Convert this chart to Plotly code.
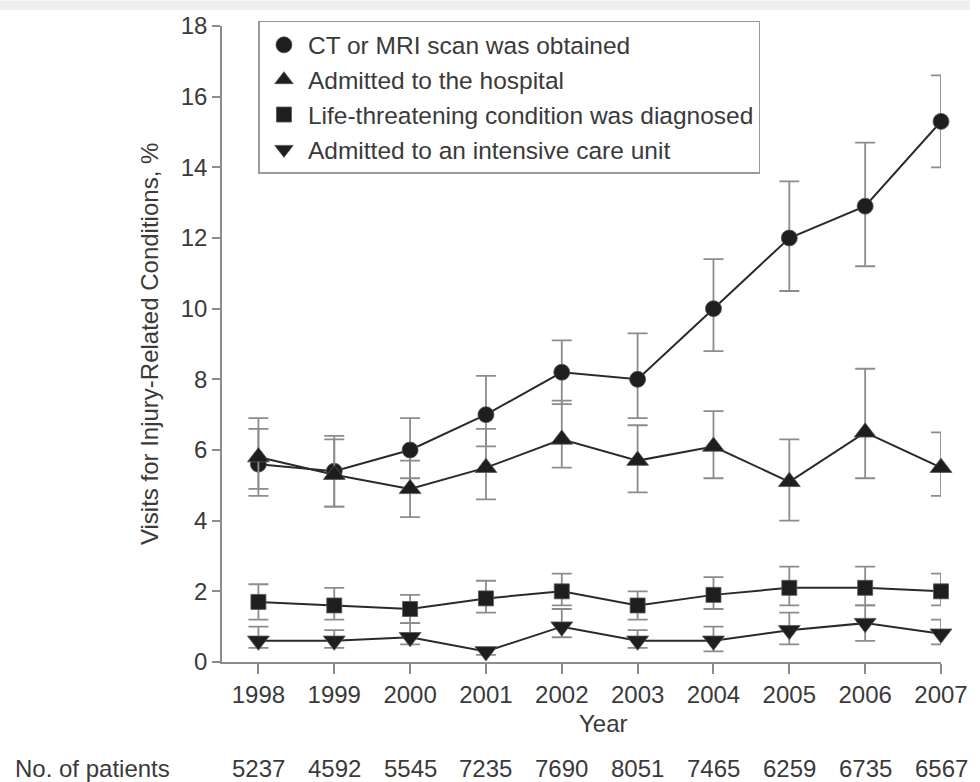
import plotly.graph_objects as go

# Survey years and number of patients per year
years = [1998, 1999, 2000, 2001, 2002, 2003, 2004, 2005, 2006, 2007]
patients = [5237, 4592, 5545, 7235, 7690, 8051, 7465, 6259, 6735, 6567]

# Percent of injury-related visits, with 95% CI bounds
ct_val = [5.6, 5.4, 6.0, 7.0, 8.2, 8.0, 10.0, 12.0, 12.9, 15.3]
ct_lo = [4.9, 4.4, 5.2, 6.1, 7.3, 6.9, 8.8, 10.5, 11.2, 14.0]
ct_hi = [6.6, 6.4, 6.9, 8.1, 9.1, 9.3, 11.4, 13.6, 14.7, 16.6]

adm_val = [5.8, 5.3, 4.9, 5.5, 6.3, 5.7, 6.1, 5.1, 6.5, 5.5]
adm_lo = [4.7, 4.4, 4.1, 4.6, 5.5, 4.8, 5.2, 4.0, 5.2, 4.7]
adm_hi = [6.9, 6.3, 5.7, 6.6, 7.4, 6.7, 7.1, 6.3, 8.3, 6.5]

lt_val = [1.7, 1.6, 1.5, 1.8, 2.0, 1.6, 1.9, 2.1, 2.1, 2.0]
lt_lo = [1.2, 1.2, 1.1, 1.4, 1.6, 1.2, 1.5, 1.6, 1.6, 1.6]
lt_hi = [2.2, 2.1, 1.9, 2.3, 2.5, 2.0, 2.4, 2.7, 2.7, 2.5]

icu_val = [0.6, 0.6, 0.7, 0.3, 1.0, 0.6, 0.6, 0.9, 1.1, 0.8]
icu_lo = [0.4, 0.4, 0.5, 0.2, 0.7, 0.4, 0.3, 0.5, 0.6, 0.5]
icu_hi = [1.0, 0.9, 1.1, 0.4, 1.5, 0.9, 1.0, 1.4, 1.6, 1.2]

series = [
    ("CT or MRI scan was obtained", ct_val, ct_lo, ct_hi, "circle", 16),
    ("Admitted to the hospital", adm_val, adm_lo, adm_hi, "triangle-up", 19),
    ("Life-threatening condition was diagnosed", lt_val, lt_lo, lt_hi, "square", 15),
    ("Admitted to an intensive care unit", icu_val, icu_lo, icu_hi, "triangle-down", 19),
]

FONT = "Liberation Sans, Arial, Helvetica, sans-serif"
INK = "#1e1e1e"
TXT = "#3a3a3a"
GREY = "#8c8c8c"

fig = go.Figure()

# connecting lines first, so markers and error bars sit on top
for name, val, lo, hi, sym, size in series:
    fig.add_trace(go.Scatter(
        x=years, y=val, mode="lines",
        line=dict(color="#2a2a2a", width=2),
        showlegend=False, hoverinfo="skip", cliponaxis=False,
    ))
for name, val, lo, hi, sym, size in series:
    fig.add_trace(go.Scatter(
        x=years, y=val, mode="markers", name=name,
        marker=dict(symbol=sym, size=size, color=INK,
                    line=dict(color="#555555", width=0.8)),
        error_y=dict(type="data", symmetric=False,
                     array=[h - v for h, v in zip(hi, val)],
                     arrayminus=[v - l for v, l in zip(val, lo)],
                     color=GREY, thickness=1.8, width=10),
        legendgroup=name, cliponaxis=False,
    ))

annotations = [
    dict(text="Visits for Injury-Related Conditions, %", textangle=-90,
         xref="paper", yref="paper", x=-0.1014, y=0.5,
         xanchor="center", yanchor="middle", showarrow=False,
         font=dict(family=FONT, size=24, color=TXT)),
    dict(text="Year", xref="x", yref="paper", x=2002.55, y=-0.097,
         xanchor="center", yanchor="middle", showarrow=False,
         font=dict(family=FONT, size=24, color=TXT)),
    dict(text="No. of patients", xref="paper", yref="paper", x=-0.29, y=-0.167,
         xanchor="left", yanchor="middle", showarrow=False,
         font=dict(family=FONT, size=24, color=TXT)),
]
for yr, n in zip(years, patients):
    annotations.append(dict(
        text=str(n), xref="x", yref="paper", x=yr, y=-0.167,
        xanchor="center", yanchor="middle", showarrow=False,
        font=dict(family=FONT, size=24, color=TXT)))

fig.update_layout(
    width=980, height=782, autosize=False,
    margin=dict(l=222, r=28, t=22, b=120, pad=0),
    paper_bgcolor="white", plot_bgcolor="white",
    font=dict(family=FONT, size=24, color=TXT),
    xaxis=dict(range=[1997.52, 2007], tickvals=years, ticks="outside",
               ticklen=10, tickwidth=1.5, tickcolor=GREY,
               showline=True, linecolor=GREY, linewidth=1.5,
               showgrid=False, zeroline=False,
               tickfont=dict(family=FONT, size=24, color=TXT)),
    yaxis=dict(range=[0, 18], dtick=2, ticks="outside",
               ticklen=8, tickwidth=1.5, tickcolor=GREY,
               showline=True, linecolor=GREY, linewidth=1.5,
               showgrid=False, zeroline=False,
               tickfont=dict(family=FONT, size=24, color=TXT)),
    legend=dict(x=0.0507, y=1.008, xanchor="left", yanchor="top",
                bordercolor="#9a9a9a", borderwidth=1.5, bgcolor="white",
                font=dict(family=FONT, size=24.5, color=TXT),
                itemwidth=38,
                traceorder="grouped", tracegroupgap=0),
    shapes=[dict(type="rect", xref="paper", yref="paper",
                 x0=-0.31, x1=1.04, y0=1.025, y1=1.04,
                 fillcolor="#eeeeee", line=dict(width=0), layer="below")],
    annotations=annotations,
    showlegend=True,
)

fig.write_html("out.html")
